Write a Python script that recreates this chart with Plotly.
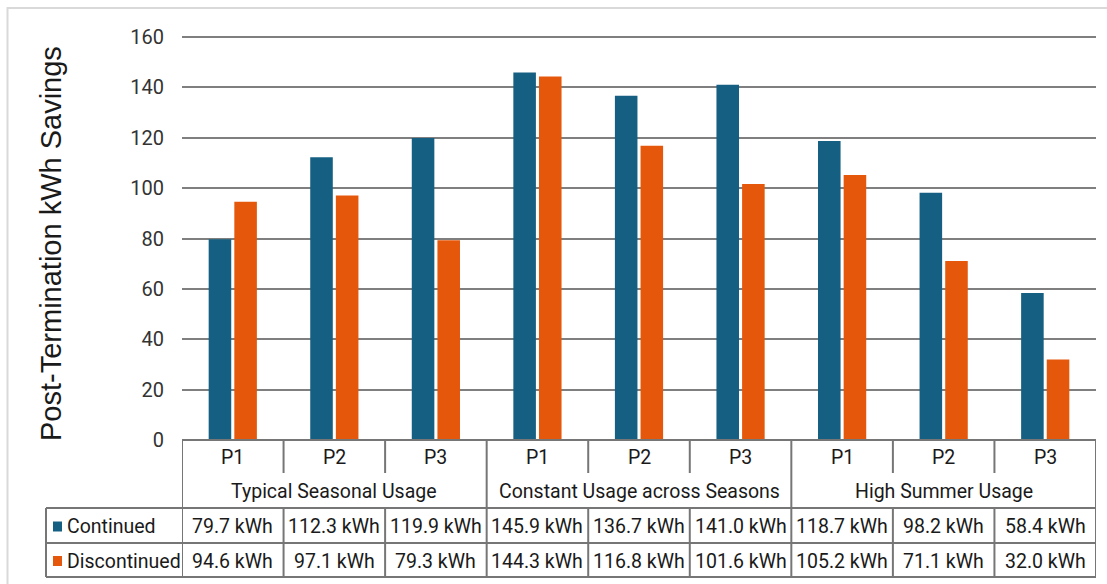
import plotly.graph_objects as go

# ---- data ----
groups = ["Typical Seasonal Usage", "Constant Usage across Seasons", "High Summer Usage"]
periods = ["P1", "P2", "P3"]
series_names = ["Continued", "Discontinued"]
continued = [79.7, 112.3, 119.9, 145.9, 136.7, 141.0, 118.7, 98.2, 58.4]
discontinued = [94.6, 97.1, 79.3, 144.3, 116.8, 101.6, 105.2, 71.1, 32.0]
y_ticks = [0, 20, 40, 60, 80, 100, 120, 140, 160]

# ---- style ----
W, H = 1107, 584
BLUE = "#156082"
ORANGE = "#E5580C"
GRID = "#7f7f7f"
TABLE_LINE = "#767676"
FONT = "Roboto, Liberation Sans, Arial, sans-serif"
TEXT = "#1a1a1a"


def px(x):
    return x / W


def py(y):
    return 1 - y / H


# plot area in pixels
X0, X1 = 182, 1096
Y_ZERO, Y_160 = 440, 37
y_top_val = 162
y_scale = (Y_ZERO - Y_160) / 160.0
y_top_px = Y_ZERO - y_top_val * y_scale

# table rows in pixels
ROW_P_BOT = 473
ROW_G_BOT = 508
ROW_C_BOT = 543
ROW_D_BOT = 577
LEFT_COL = 46

n_cat = len(groups) * len(periods)
xs = list(range(n_cat))

fig = go.Figure()
fig.add_trace(go.Bar(x=xs, y=continued, name=series_names[0], marker_color=BLUE,
                     marker_line_width=0))
fig.add_trace(go.Bar(x=xs, y=discontinued, name=series_names[1], marker_color=ORANGE,
                     marker_line_width=0))

shapes = []
annotations = []

# outer light frame
shapes.append(dict(type="rect", xref="paper", yref="paper",
                   x0=px(7.5), x1=px(1130), y0=py(8), y1=py(600),
                   line=dict(color="#d9d9d9", width=2), layer="below"))


# table lines
def hline(y, xa, xb, xref="paper"):
    shapes.append(dict(type="line", xref=xref, yref="paper", x0=xa, x1=xb,
                       y0=py(y), y1=py(y), line=dict(color=TABLE_LINE, width=2)))


def vline(x, ya, yb, xref="x"):
    shapes.append(dict(type="line", xref=xref, yref="paper", x0=x, x1=x,
                       y0=py(ya), y1=py(yb), line=dict(color=TABLE_LINE, width=2)))


hline(Y_ZERO, px(X0), px(X1))
hline(ROW_G_BOT, px(LEFT_COL), px(X1))
hline(ROW_C_BOT, px(LEFT_COL), px(X1))
hline(ROW_D_BOT, px(LEFT_COL), px(X1))
vline(px(LEFT_COL), ROW_G_BOT, ROW_D_BOT, xref="paper")

for i in range(n_cat + 1):
    b = i - 0.5
    if i % len(periods) == 0:
        vline(b, Y_ZERO, ROW_D_BOT)
    else:
        vline(b, Y_ZERO, ROW_P_BOT)
        vline(b, ROW_G_BOT, ROW_D_BOT)

cell_font = dict(family=FONT, size=19.5, color=TEXT)

# period and group headers
for gi, g in enumerate(groups):
    for pi, p in enumerate(periods):
        annotations.append(dict(x=gi * len(periods) + pi, y=py((Y_ZERO + ROW_P_BOT) / 2 + 1),
                                xref="x", yref="paper", text=p, showarrow=False,
                                font=cell_font, xanchor="center", yanchor="middle"))
    annotations.append(dict(x=gi * len(periods) + 1, y=py((ROW_P_BOT + ROW_G_BOT) / 2 + 1),
                            xref="x", yref="paper", text=g, showarrow=False,
                            font=cell_font, xanchor="center", yanchor="middle"))

# value rows with legend keys
rows = [(continued, BLUE, series_names[0], (ROW_G_BOT + ROW_C_BOT) / 2),
        (discontinued, ORANGE, series_names[1], (ROW_C_BOT + ROW_D_BOT) / 2)]
for vals, col, name, yc in rows:
    shapes.append(dict(type="rect", xref="paper", yref="paper",
                       x0=px(53), x1=px(62), y0=py(yc - 4), y1=py(yc + 6),
                       fillcolor=col, line=dict(width=0)))
    annotations.append(dict(x=px(65), y=py(yc + 1), xref="paper", yref="paper",
                            text=name, showarrow=False, font=cell_font,
                            xanchor="left", yanchor="middle"))
    for i, v in enumerate(vals):
        annotations.append(dict(x=i, y=py(yc + 1), xref="x", yref="paper",
                                text=f"{v:.1f} kWh", showarrow=False, font=cell_font,
                                xanchor="center", yanchor="middle"))

# y axis title
annotations.append(dict(x=px(51), y=py(244), xref="paper", yref="paper",
                        text="Post-Termination kWh Savings", textangle=-90,
                        showarrow=False,
                        font=dict(family="Liberation Sans, Arial, sans-serif", size=29, color=TEXT),
                        xanchor="center", yanchor="middle"))

fig.update_layout(
    width=W, height=H,
    margin=dict(l=0, r=0, t=0, b=0),
    paper_bgcolor="white", plot_bgcolor="white",
    barmode="group", bargap=0.495, bargroupgap=0.12,
    showlegend=False,
    shapes=shapes, annotations=annotations,
    xaxis=dict(domain=[px(X0), px(X1)], range=[-0.5, n_cat - 0.5],
               showticklabels=False, showgrid=False, zeroline=False, showline=False,
               ticks="", automargin=False),
    yaxis=dict(domain=[py(Y_ZERO), py(y_top_px)], range=[0, y_top_val],
               tickvals=y_ticks, ticks="", showline=False, zeroline=False,
               showgrid=True, gridcolor=GRID, gridwidth=2, automargin=False,
               ticklabelstandoff=17,
               tickfont=dict(family=FONT, size=20, color="#333333")),
)

# page body without default spacing so the figure sits at the window origin
fig.write_html(
    "out.html",
    config={"responsive": False, "displayModeBar": False},
    post_script="document.body.style.margin='0';document.body.style.overflow='hidden';",
)
